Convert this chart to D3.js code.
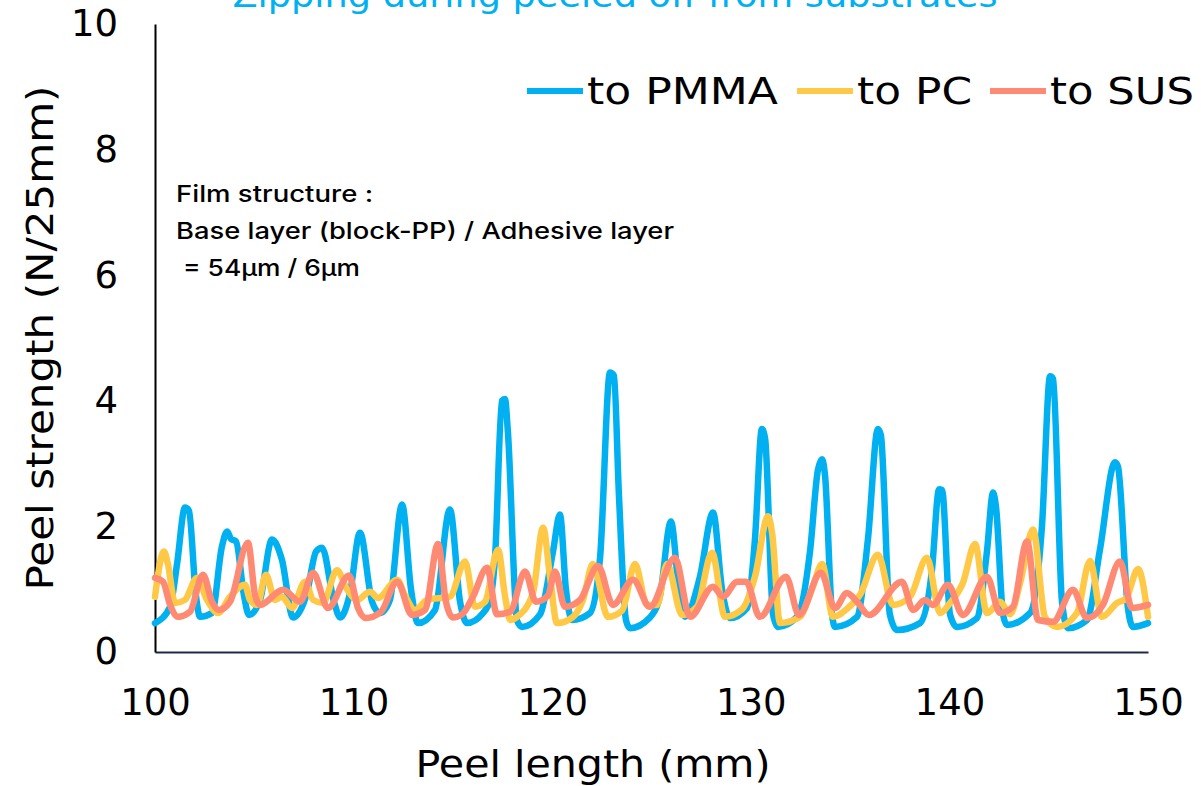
<!DOCTYPE html>
<html>
<head>
<meta charset="utf-8">
<script src="https://cdn.jsdelivr.net/npm/d3@7"></script>
<style>
  html, body { margin: 0; padding: 0; background: #fff; }
  svg { display: block; }
  text { font-family: "DejaVu Sans", "Noto Sans", sans-serif; }
</style>
</head>
<body>
<svg id="chart" width="1201" height="786"></svg>
<script>
// Peel strength traces (N/25mm) against peel length (mm)
const pmmaLength = [100.00,100.76,101.11,101.51,101.71,102.06,102.27,102.87,103.37,103.63,103.83,104.08,104.48,104.73,105.29,105.89,106.39,106.95,107.65,108.11,108.41,109.01,109.32,109.82,110.32,110.93,111.33,111.83,112.44,112.89,113.24,114.10,114.85,115.36,115.71,116.52,116.87,117.12,117.47,117.62,117.77,118.23,118.48,119.39,120.04,120.39,120.69,121.00,121.90,122.41,122.91,123.11,123.36,123.72,123.92,124.92,125.43,125.98,126.38,126.69,127.44,128.10,128.55,128.95,129.81,130.21,130.56,130.72,131.12,131.37,132.33,132.98,133.38,133.59,133.74,134.09,134.24,135.35,135.90,136.40,136.55,137.00,137.36,138.52,139.12,139.48,139.63,140.03,140.38,141.39,141.89,142.20,142.35,142.70,142.90,144.06,144.66,145.07,145.22,145.67,145.97,146.93,147.58,148.34,148.49,148.99,149.24,150.00];
const pmmaStrength = [0.46,0.72,1.40,2.30,2.25,0.90,0.56,0.62,1.68,1.92,1.80,1.76,0.90,0.59,0.83,1.79,1.47,0.55,0.94,1.60,1.66,0.80,0.55,0.94,1.90,0.80,0.62,0.83,2.35,1.00,0.46,0.67,2.27,0.80,0.46,0.62,0.83,1.50,4.00,4.03,3.50,0.50,0.40,0.60,1.60,2.19,1.00,0.51,0.62,1.50,4.45,4.40,2.50,0.50,0.38,0.55,0.90,2.08,1.00,0.56,1.20,2.22,1.00,0.54,0.70,1.80,3.55,3.40,0.60,0.40,0.56,1.60,2.90,3.07,2.80,0.60,0.40,0.56,1.80,3.55,3.45,0.60,0.35,0.46,1.30,2.59,2.58,0.60,0.40,0.54,1.60,2.54,2.30,0.60,0.43,0.62,2.00,4.39,4.35,0.80,0.38,0.51,1.63,3.02,2.95,0.70,0.40,0.46];

const pcLength = [100.00,100.45,100.65,101.01,101.51,102.11,102.62,103.17,103.78,104.53,104.78,105.14,105.59,106.04,106.39,106.90,107.55,107.96,108.46,109.16,109.67,110.17,110.83,111.23,112.19,112.59,113.09,113.70,114.85,115.61,116.11,116.62,117.27,117.62,117.88,118.23,119.03,119.54,119.89,120.24,121.05,121.55,122.05,122.81,123.52,124.17,124.77,125.28,125.78,126.54,127.29,128.05,128.70,129.56,130.21,130.87,131.07,131.47,132.48,133.08,133.59,134.14,134.89,135.50,136.40,137.16,138.02,138.87,139.53,140.03,140.68,141.29,141.89,142.55,143.05,143.56,144.21,144.81,145.42,146.42,147.08,147.68,148.44,148.89,149.50,150.00];
const pcStrength = [0.88,1.60,1.40,0.78,0.83,1.18,0.83,0.62,0.88,1.07,0.83,0.75,1.23,0.83,0.88,0.70,1.12,0.83,0.78,1.30,1.00,0.83,0.96,0.86,1.15,0.90,0.67,0.83,0.88,1.44,0.72,0.80,1.63,0.90,0.51,0.56,0.94,1.98,1.20,0.46,0.56,0.83,1.40,0.56,0.66,1.40,0.75,0.75,1.40,0.59,0.72,1.58,0.56,0.68,1.20,2.16,1.90,0.46,0.56,1.00,1.40,0.56,0.70,0.91,1.55,0.75,0.88,1.50,0.62,0.78,1.10,1.72,0.62,0.80,0.60,1.10,1.95,0.56,0.40,0.62,1.45,0.56,0.78,0.85,1.32,0.56];

const susLength = [100.00,100.40,100.76,101.16,101.76,102.42,102.87,103.22,103.78,104.68,105.04,105.29,106.45,107.30,107.96,108.71,109.77,110.22,110.62,111.38,112.19,112.94,113.60,114.25,114.65,115.00,115.46,116.01,116.72,117.22,117.88,118.63,119.18,119.79,120.14,120.64,121.40,122.31,123.06,124.07,124.92,126.18,126.94,128.10,128.60,129.31,129.76,130.46,131.77,132.43,133.53,134.24,134.84,135.35,135.95,137.61,138.17,138.77,139.17,139.93,140.68,141.89,142.55,143.20,143.91,144.46,145.22,146.22,146.93,147.73,148.59,149.19,150.00];
const susStrength = [1.18,1.12,0.75,0.56,0.64,1.23,0.80,0.67,0.80,1.74,0.90,0.75,0.99,0.80,1.26,0.70,1.22,0.70,0.54,0.64,1.12,0.59,0.67,1.72,0.80,0.55,0.60,0.88,1.34,0.60,0.64,1.28,0.80,0.90,1.28,0.72,0.83,1.37,0.75,1.15,0.72,1.50,0.56,1.04,0.88,1.12,1.12,0.56,1.20,0.59,1.26,0.70,0.94,0.80,0.59,1.12,0.67,0.83,0.75,1.07,0.59,1.20,0.62,0.72,1.76,0.51,0.48,0.99,0.54,0.75,1.44,0.70,0.75];

const seriesNames = ["to PMMA", "to PC", "to SUS"];
const seriesColors = ["#00B0F0", "#FFC846", "#FF8A73"];
const xTicks = [100, 110, 120, 130, 140, 150];
const yTicks = [0, 2, 4, 6, 8, 10];

const titleText = "Zipping during peeled off from substrates";
const noteLines = ["Film structure :", "Base layer (block-PP) / Adhesive layer", " = 54\u03bcm / 6\u03bcm"];

const svg = d3.select("#chart");
const plot = { left: 155, right: 1148, top: 24, bottom: 652 };

const x = d3.scaleLinear().domain([100, 150]).range([plot.left, plot.right]);
const y = d3.scaleLinear().domain([0, 10]).range([plot.bottom, plot.top]);

// Title, running off the top edge of the canvas
svg.append("text")
  .attr("x", 615).attr("y", 7)
  .attr("text-anchor", "middle")
  .attr("fill", "#00B0F0")
  .attr("font-size", 34)
  .attr("textLength", 765)
  .attr("lengthAdjust", "spacingAndGlyphs")
  .text(titleText);

// Axes
const xAxis = svg.append("g")
  .attr("transform", `translate(0,${plot.bottom})`)
  .call(d3.axisBottom(x).tickValues(xTicks).tickSize(0).tickPadding(37).tickFormat(d3.format("d")));
xAxis.select(".domain").attr("stroke", "#1F2A44").attr("stroke-width", 2);
xAxis.selectAll("text").attr("font-size", 37).attr("fill", "#000");

const yAxis = svg.append("g")
  .attr("transform", `translate(${plot.left},0)`)
  .call(d3.axisLeft(y).tickValues(yTicks).tickSize(0).tickPadding(37).tickFormat(d3.format("d")));
yAxis.select(".domain").attr("stroke", "#000").attr("stroke-width", 2);
yAxis.selectAll("text").attr("font-size", 37).attr("fill", "#000");

// Axis titles
svg.append("text")
  .attr("x", 593).attr("y", 777)
  .attr("text-anchor", "middle")
  .attr("font-size", 38)
  .attr("fill", "#000")
  .attr("textLength", 355)
  .attr("lengthAdjust", "spacingAndGlyphs")
  .text("Peel length (mm)");

svg.append("text")
  .attr("transform", "translate(53,338) rotate(-90)")
  .attr("text-anchor", "middle")
  .attr("font-size", 38)
  .attr("fill", "#000")
  .attr("textLength", 505)
  .attr("lengthAdjust", "spacingAndGlyphs")
  .text("Peel strength (N/25mm)");

// Film structure note
const noteWidths = [197, 498, 177];
noteLines.forEach((t, i) => {
  svg.append("text")
    .attr("x", i === 2 ? 183 : 176)
    .attr("y", 202 + i * 37)
    .style("font-family", "Inter, 'DejaVu Sans', sans-serif")
    .style("font-weight", 500)
    .attr("font-size", 23)
    .attr("fill", "#000")
    .attr("textLength", noteWidths[i])
    .attr("lengthAdjust", "spacingAndGlyphs")
    .text(t.trim());
});

// Data lines
const line = d3.line()
  .x(d => x(d[0]))
  .y(d => y(d[1]))
  .curve(d3.curveMonotoneX);

const series = [
  d3.zip(pmmaLength, pmmaStrength),
  d3.zip(pcLength, pcStrength),
  d3.zip(susLength, susStrength)
];

svg.append("g").selectAll("path")
  .data(series)
  .join("path")
  .attr("d", line)
  .attr("fill", "none")
  .attr("stroke", (d, i) => seriesColors[i])
  .attr("stroke-width", 6.5)
  .attr("stroke-linejoin", "round")
  .attr("stroke-linecap", "round");

// Legend
const legendX = [527, 797, 990];
const legendTextWidths = [191, 115, 144];
const legend = svg.append("g");
seriesNames.forEach((name, i) => {
  legend.append("line")
    .attr("x1", legendX[i]).attr("x2", legendX[i] + 56)
    .attr("y1", 91).attr("y2", 91)
    .attr("stroke", seriesColors[i])
    .attr("stroke-width", 6);
  legend.append("text")
    .attr("x", legendX[i] + 60).attr("y", 104)
    .attr("font-size", 37)
    .attr("fill", "#000")
    .attr("textLength", legendTextWidths[i])
    .attr("lengthAdjust", "spacingAndGlyphs")
    .text(name);
});
</script>
</body>
</html>
